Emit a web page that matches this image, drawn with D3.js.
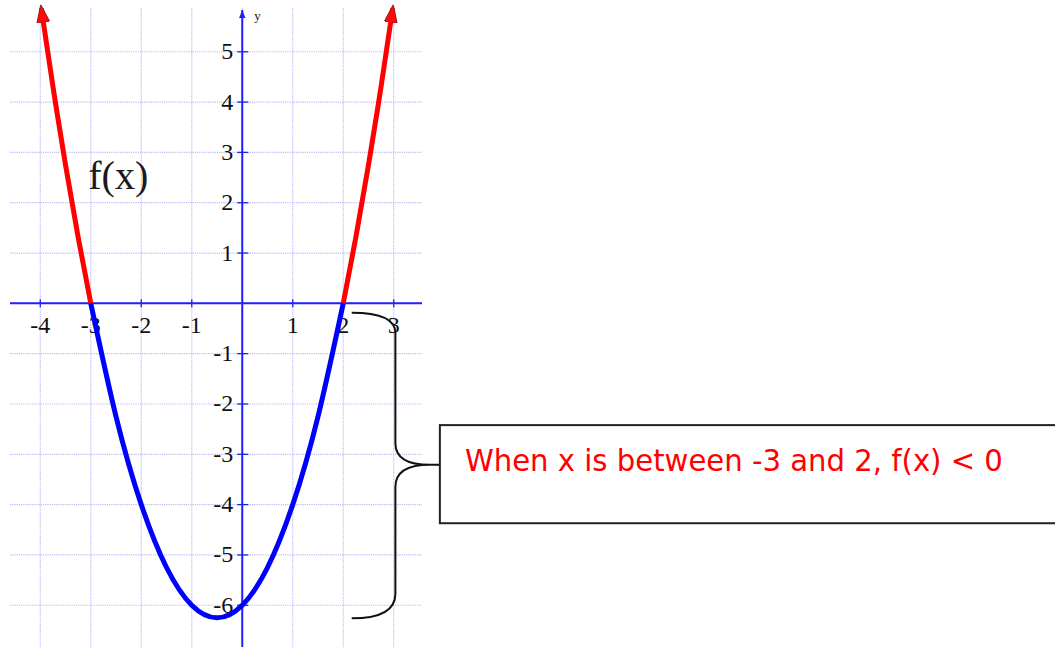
<!DOCTYPE html>
<html>
<head>
<meta charset="utf-8">
<script src="https://cdn.jsdelivr.net/npm/d3@7"></script>
<style>
  html, body { margin: 0; padding: 0; background: #fff; }
  svg { display: block; }
</style>
</head>
<body>
<svg id="chart" width="1055" height="647"></svg>
<script>
const leftRedX  = [-3, -3.25, -3.5, -3.75, -3.98];
const leftRedY  = [0, 1.3125, 2.75, 4.3125, 5.86];
const blueX     = [-3, -2.5, -2, -1.5, -1, -0.5, 0, 0.5, 1, 1.5, 2];
const blueY     = [0, -2.25, -4, -5.25, -6, -6.25, -6, -5.25, -4, -2.25, 0];
const rightRedX = [2, 2.25, 2.5, 2.75, 2.98];
const rightRedY = [0, 1.3125, 2.75, 4.3125, 5.86];

const xTickValues = [-4, -3, -2, -1, 1, 2, 3];
const yTickValues = [5, 4, 3, 2, 1, -1, -2, -3, -4, -5, -6];
const xGridValues = [-4, -3, -2, -1, 0, 1, 2, 3];
const yGridValues = [5, 4, 3, 2, 1, 0, -1, -2, -3, -4, -5, -6];

const noteText = "When x is between -3 and 2, f(x) < 0";
const curveLabel = "f(x)";

const W = 1055, H = 647;
const svg = d3.select("#chart");

const x = d3.scaleLinear().domain([-4.6, 3.56]).range([10, 422]);
const y = d3.scaleLinear().domain([-6.83, 5.87]).range([647, 8]);

const x0 = x(0), y0 = y(0);
const axisBlue = "#1f1fff";
const serif = "'Liberation Serif', 'DejaVu Serif', serif";

// grid
const grid = svg.append("g")
  .attr("stroke", "#bcbcf6")
  .attr("stroke-width", 1.2)
  .attr("stroke-dasharray", "1.2,1");
grid.selectAll("line.v").data(xGridValues).join("line")
  .attr("class", "v")
  .attr("x1", d => x(d)).attr("x2", d => x(d))
  .attr("y1", y.range()[1]).attr("y2", y.range()[0]);
grid.selectAll("line.h").data(yGridValues).join("line")
  .attr("class", "h")
  .attr("x1", x.range()[0]).attr("x2", x.range()[1])
  .attr("y1", d => y(d)).attr("y2", d => y(d));

// axes
const defs = svg.append("defs");
defs.append("marker")
  .attr("id", "axisArrow")
  .attr("markerUnits", "userSpaceOnUse")
  .attr("viewBox", "0 -5 10 10")
  .attr("refX", 10).attr("refY", 0)
  .attr("markerWidth", 8).attr("markerHeight", 8)
  .attr("orient", "auto")
  .append("path")
  .attr("d", "M0,-4L10,0L0,4Z")
  .attr("fill", axisBlue);

svg.append("line")
  .attr("x1", x.range()[0]).attr("x2", x.range()[1])
  .attr("y1", y0).attr("y2", y0)
  .attr("stroke", axisBlue).attr("stroke-width", 2);
svg.append("line")
  .attr("x1", x0).attr("x2", x0)
  .attr("y1", H).attr("y2", 10)
  .attr("stroke", axisBlue).attr("stroke-width", 2)
  .attr("marker-end", "url(#axisArrow)");

svg.append("text")
  .attr("x", x0 + 12).attr("y", 20)
  .attr("font-family", serif).attr("font-size", 13)
  .attr("fill", "#222")
  .text("y");

// ticks
svg.append("g").selectAll("line").data(xTickValues).join("line")
  .attr("x1", d => x(d)).attr("x2", d => x(d))
  .attr("y1", y0 - 4).attr("y2", y0 + 4)
  .attr("stroke", axisBlue).attr("stroke-width", 1.3);
svg.append("g").selectAll("line").data(yTickValues).join("line")
  .attr("x1", x0 - 5).attr("x2", x0 + 6)
  .attr("y1", d => y(d)).attr("y2", d => y(d))
  .attr("stroke", axisBlue).attr("stroke-width", 1.3);

// tick labels
svg.append("g").selectAll("text").data(xTickValues).join("text")
  .attr("x", d => x(d)).attr("y", y0 + 29.5)
  .attr("text-anchor", "middle")
  .attr("font-family", serif).attr("font-size", 24)
  .attr("fill", "#111")
  .text(d => d);
svg.append("g").selectAll("text").data(yTickValues).join("text")
  .attr("x", x0 - 9).attr("y", d => y(d) + 7.5)
  .attr("text-anchor", "end")
  .attr("font-family", serif).attr("font-size", 24)
  .attr("fill", "#111")
  .text(d => d);

// curve label
svg.append("text")
  .attr("x", x(-3.05)).attr("y", y(2.27))
  .attr("font-family", serif).attr("font-size", 40)
  .attr("fill", "#1a1a1a")
  .text(curveLabel);

// curve
defs.append("marker")
  .attr("id", "redArrow")
  .attr("markerUnits", "userSpaceOnUse")
  .attr("viewBox", "0 -7 18 14")
  .attr("refX", 14).attr("refY", 0)
  .attr("markerWidth", 18).attr("markerHeight", 14)
  .attr("orient", "auto")
  .append("path")
  .attr("d", "M0,-6.5L18,0L0,6.5Z")
  .attr("fill", "#ff0a0a")
  .attr("stroke", "#8a1010").attr("stroke-width", 0.8);

const line = d3.line()
  .x(d => x(d[0])).y(d => y(d[1]))
  .curve(d3.curveNatural);

const seg = (xs, ys) => xs.map((v, i) => [v, ys[i]]);

svg.append("path")
  .datum(seg(blueX, blueY))
  .attr("d", line)
  .attr("fill", "none").attr("stroke", "#0000ff")
  .attr("stroke-width", 5);
svg.append("path")
  .datum(seg(leftRedX, leftRedY))
  .attr("d", line)
  .attr("fill", "none").attr("stroke", "#ff0000")
  .attr("stroke-width", 5)
  .attr("marker-end", "url(#redArrow)");
svg.append("path")
  .datum(seg(rightRedX, rightRedY))
  .attr("d", line)
  .attr("fill", "none").attr("stroke", "#ff0000")
  .attr("stroke-width", 5)
  .attr("marker-end", "url(#redArrow)");

// brace spanning the negative interval
const bx0 = x(2.168), bxv = x(3.033), bxt = x(3.716), bxBox = x(3.914);
const byTop = y(-0.187), byTop2 = y(-0.59), byMid1 = y(-2.78),
      byMid = y(-3.21), byMid2 = y(-3.65), byBot2 = y(-5.77), byBot = y(-6.26);
const brace = d3.path();
brace.moveTo(bx0, byTop);
brace.quadraticCurveTo(bxv, byTop, bxv, byTop2);
brace.lineTo(bxv, byMid1);
brace.quadraticCurveTo(bxv, byMid, bxt, byMid);
brace.lineTo(bxBox, byMid);
brace.moveTo(bxt, byMid);
brace.quadraticCurveTo(bxv, byMid, bxv, byMid2);
brace.lineTo(bxv, byBot2);
brace.quadraticCurveTo(bxv, byBot, bx0, byBot);
svg.append("path")
  .attr("d", brace.toString())
  .attr("fill", "none").attr("stroke", "#111")
  .attr("stroke-width", 2);

// note box
const boxLeft = x(3.914), boxTop = y(-2.42), boxBottom = y(-4.37);
svg.append("rect")
  .attr("x", boxLeft).attr("y", boxTop)
  .attr("width", W + 20 - boxLeft).attr("height", boxBottom - boxTop)
  .attr("fill", "#fff").attr("stroke", "#222").attr("stroke-width", 2);

svg.append("text")
  .attr("x", x(4.41)).attr("y", y(-3.33))
  .attr("font-family", "'DejaVu Sans', 'Noto Sans', sans-serif")
  .attr("font-size", 31)
  .attr("textLength", 538)
  .attr("lengthAdjust", "spacingAndGlyphs")
  .attr("fill", "#ff0000")
  .text(noteText);
</script>
</body>
</html>
